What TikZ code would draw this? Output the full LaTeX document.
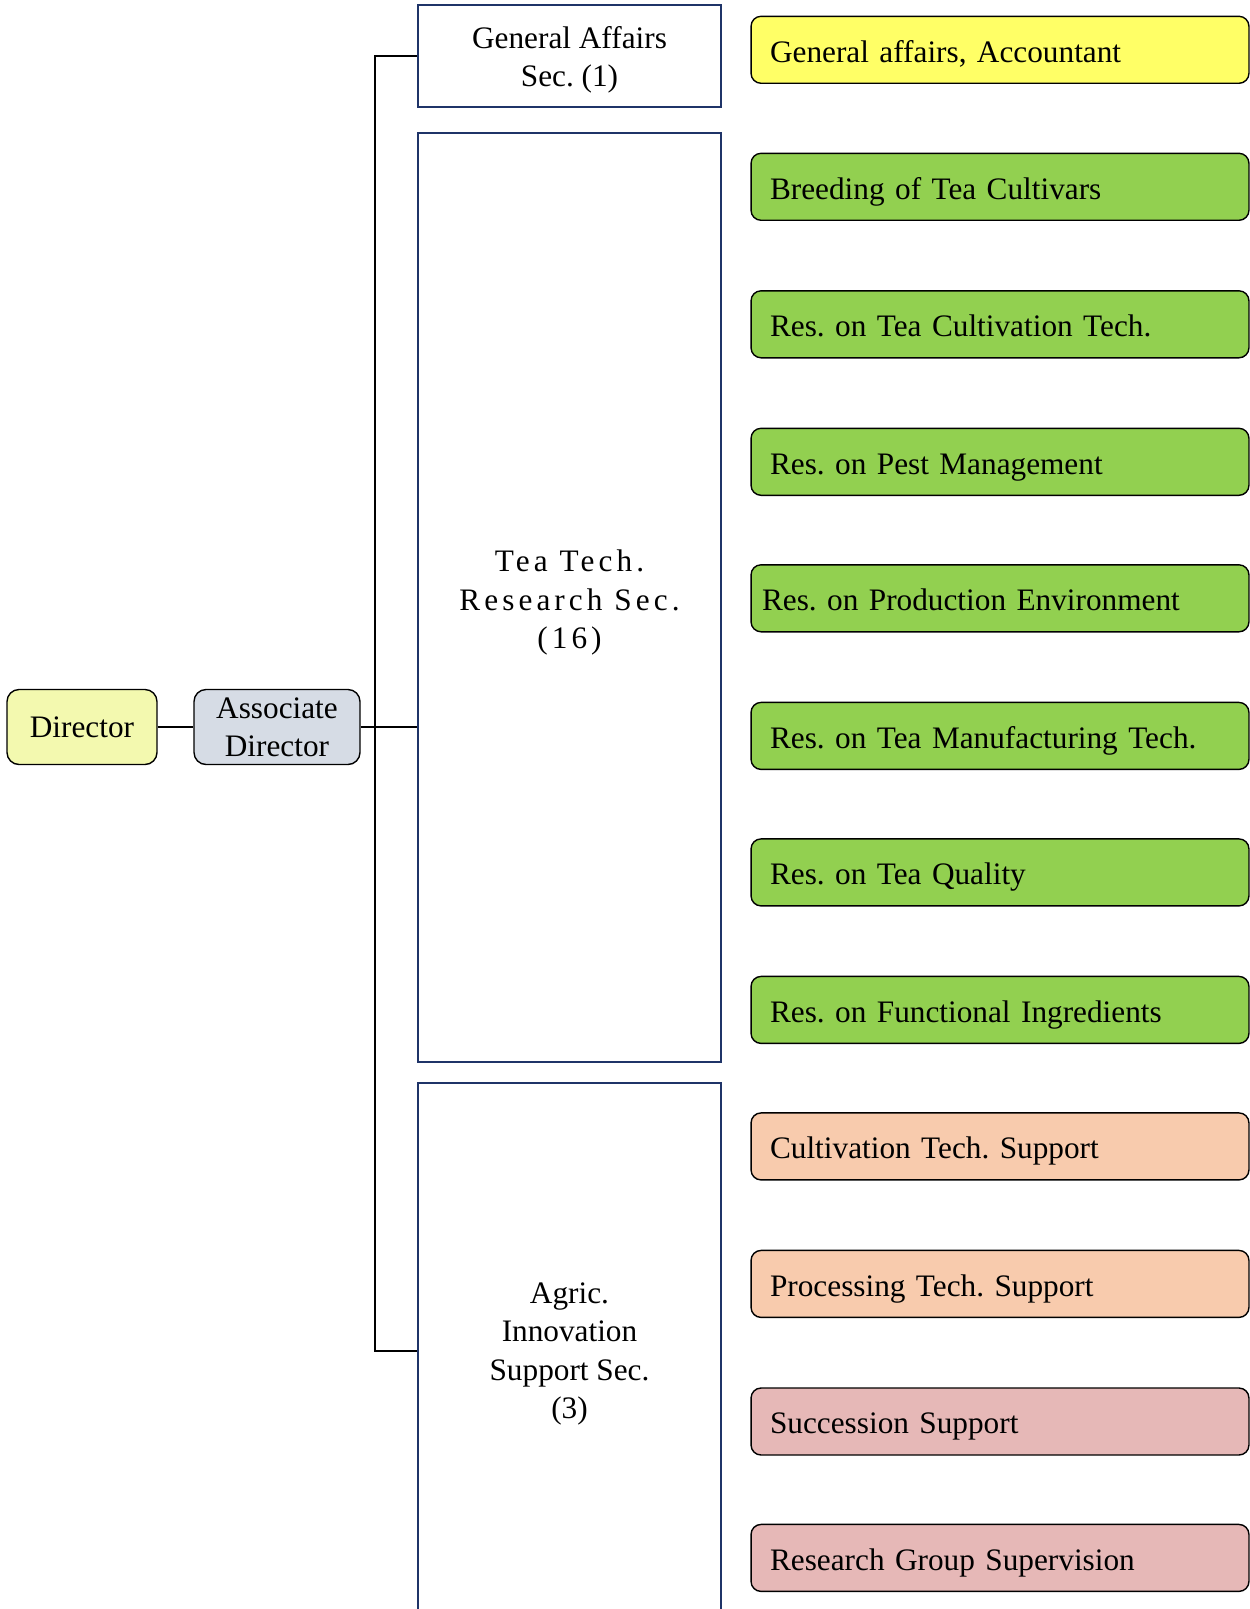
\documentclass[tikz,border=0pt]{standalone}
\usepackage{fontspec}
\setmainfont{Liberation Serif}
\usepackage{xcolor}
\usepackage{tikz}

\definecolor{dirfill}{HTML}{F3F9AF}
\definecolor{assocfill}{HTML}{D6DCE5}
\definecolor{secline}{HTML}{1F3468}
\definecolor{gafill}{HTML}{FFFF66}
\definecolor{resfill}{HTML}{92D050}
\definecolor{supfill}{HTML}{F8CBAD}
\definecolor{grpfill}{HTML}{E6B8B7}

\newcommand{\secgap}[1]{\rule{0pt}{#1}}

\begin{document}
\begin{tikzpicture}[x=0.02cm,y=-0.02cm,
    every node/.style={font=\fontsize{17.8}{21.8}\selectfont\frenchspacing},
    head node/.style={rectangle,rounded corners=0.24cm,draw,line width=0.8pt,minimum height=1.5cm,align=center,inner sep=1pt},
    sec node/.style={rectangle,draw=secline,line width=1.1pt,fill=white,minimum width=6.06cm,align=center},
    unit node/.style={rectangle,rounded corners=0.2cm,draw,line width=0.8pt,text width=9.2cm,inner xsep=0.38cm,
      text height=17pt,text depth=2.8pt,minimum height=1.34cm,align=left},
    link/.style={line width=1.1pt}]
        \useasboundingbox (0,0) rectangle (1250,1609);
        \clip (0,0) rectangle (1250,1609);

        % head
        \node[head node,fill=dirfill,minimum width=3cm] (dir) at (82,727) {Director};
        \node[head node,fill=assocfill,minimum width=3.32cm] (assoc) at (277,727) {Associate\\Director};

        % sections
        \node[sec node,minimum height=2.04cm] (ga) at (569.5,56) {\secgap{0.96em}General Affairs\\Sec. (1)};
        \node[sec node,minimum height=18.58cm,
          font=\fontsize{17.8}{21.8}\selectfont\frenchspacing\addfontfeature{LetterSpace=13}] (tea) at (569.5,597.5)
          {\secgap{1.02em}Tea Tech.\\Research Sec.\\(16)};
        \node[sec node,minimum height=10.72cm] (agric) at (569.5,1351) {\secgap{0.86em}Agric.\\Innovation\\Support Sec.\\(3)};

        % units
        \node[unit node,fill=gafill]  (u1)  at (1000,49.8)  {General affairs, Accountant};
        \node[unit node,fill=resfill] (u2)  at (1000,186.8) {Breeding of Tea Cultivars};
        \node[unit node,fill=resfill] (u3)  at (1000,324.3) {Res. on Tea Cultivation Tech.};
        \node[unit node,fill=resfill] (u4)  at (1000,461.8) {Res. on Pest Management};
        \node[unit node,fill=resfill,text width=9.52cm,inner xsep=0.22cm] (u5) at (1000,598.3) {Res. on Production Environment};
        \node[unit node,fill=resfill] (u6)  at (1000,735.9) {Res. on Tea Manufacturing Tech.};
        \node[unit node,fill=resfill] (u7)  at (1000,872.4) {Res. on Tea Quality};
        \node[unit node,fill=resfill] (u8)  at (1000,1009.9) {Res. on Functional Ingredients};
        \node[unit node,fill=supfill] (u9)  at (1000,1146.4) {Cultivation Tech. Support};
        \node[unit node,fill=supfill] (u10) at (1000,1283.9) {Processing Tech. Support};
        \node[unit node,fill=grpfill] (u11) at (1000,1421.5) {Succession Support};
        \node[unit node,fill=grpfill] (u12) at (1000,1557.9) {Research Group Supervision};

        \coordinate (bus) at (375,727);
        \path[link]
          (dir) edge (assoc)
          (assoc.east) edge (assoc.east -| tea.west);
        \draw[link] (ga.west) -- (ga.west -| bus) -- (agric.west -| bus) -- (agric.west);
      \end{tikzpicture}
\end{document}
